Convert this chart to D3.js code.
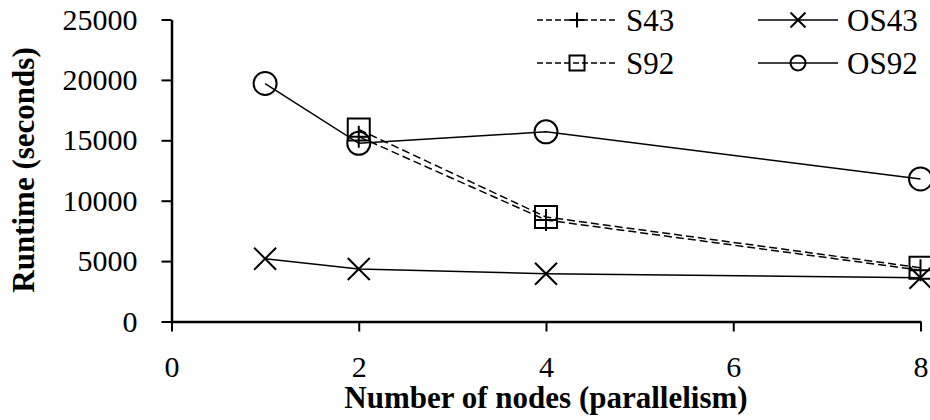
<!DOCTYPE html>
<html>
<head>
<meta charset="utf-8">
<script src="https://cdn.jsdelivr.net/npm/d3@7"></script>
<style>
  body { margin: 0; background: #fff; }
</style>
</head>
<body>
<div id="chart-area"></div>
<script>

// data
const nodesS = [2, 4, 8];
const nodesOS = [1, 2, 4, 8];
const s43 = [15300, 8400, 4250];
const s92 = [15900, 8650, 4450];
const os43 = [5200, 4350, 3950, 3620];
const os92 = [19700, 14750, 15700, 11800];

const xTicks = [0, 2, 4, 6, 8];
const yTicks = [0, 5000, 10000, 15000, 20000, 25000];

const serif = "Liberation Serif";

// canvas
const svgWidth = 930,
      svgHeight = 420;

var svg = d3.select("#chart-area")
    .append("svg")
    .attr("width", svgWidth)
    .attr("height", svgHeight);

// scales
var xScale = d3.scaleLinear()
    .domain([0, 8])
    .range([171.5, 920.5]);
var yScale = d3.scaleLinear()
    .domain([0, 25000])
    .range([321.5, 19.5]);

// axes
var xAxisCall = d3.axisBottom(xScale)
    .tickValues(xTicks)
    .tickSizeInner(10)
    .tickSizeOuter(0)
    .tickPadding(24)
    .tickFormat(d3.format("d"));
var yAxisCall = d3.axisLeft(yScale)
    .tickValues(yTicks)
    .tickSizeInner(10)
    .tickSizeOuter(0)
    .tickPadding(24)
    .tickFormat(d3.format("d"));

var xAxis = svg.append("g")
    .attr("transform", "translate(0," + yScale(0) + ")")
    .call(xAxisCall);
var yAxis = svg.append("g")
    .attr("transform", "translate(" + xScale(0) + ",0)")
    .call(yAxisCall);

[xAxis, yAxis].forEach(function(ax){
    ax.select(".domain").attr("stroke", "#000").attr("stroke-width", 2.5);
    ax.selectAll(".tick line").attr("stroke", "#000").attr("stroke-width", 2);
    ax.selectAll(".tick text")
        .attr("fill", "#000")
        .style("font-family", serif)
        .style("font-size", "30px");
});

// axis titles
svg.append("text")
    .attr("x", 546)
    .attr("y", 408)
    .attr("text-anchor", "middle")
    .style("font-family", serif)
    .style("font-size", "31px")
    .style("font-weight", "bold")
    .text("Number of nodes (parallelism)");

svg.append("text")
    .attr("transform", "translate(34," + 170 + ") rotate(-90)")
    .attr("text-anchor", "middle")
    .style("font-family", serif)
    .style("font-size", "31px")
    .style("font-weight", "bold")
    .text("Runtime (seconds)");

// marker shapes, centred on 0,0
function markerPath(kind, s){
    if (kind == "plus") return "M" + (-s) + ",0H" + s + "M0," + (-s) + "V" + s;
    if (kind == "cross") return "M" + (-s) + "," + (-s) + "L" + s + "," + s + "M" + (-s) + "," + s + "L" + s + "," + (-s);
    if (kind == "square") return "M" + (-s) + "," + (-s) + "H" + s + "V" + s + "H" + (-s) + "Z";
    if (kind == "circle") return d3.arc()({innerRadius: 0, outerRadius: s, startAngle: 0, endAngle: 2 * Math.PI});
}

var series = [
    {name: "S43", xs: nodesS, ys: s43, dash: "8,4", marker: "plus", size: 11},
    {name: "S92", xs: nodesS, ys: s92, dash: "8,4", marker: "square", size: 11},
    {name: "OS43", xs: nodesOS, ys: os43, dash: null, marker: "cross", size: 11},
    {name: "OS92", xs: nodesOS, ys: os92, dash: null, marker: "circle", size: 11.5}
];

var line = d3.line()
    .x(function(d){ return xScale(d[0]); })
    .y(function(d){ return yScale(d[1]); });

series.forEach(function(s){
    var pts = s.xs.map(function(x, i){ return [x, s.ys[i]]; });

    svg.append("path")
        .datum(pts)
        .attr("d", line)
        .attr("fill", "none")
        .attr("stroke", "#000")
        .attr("stroke-width", 1.5)
        .attr("stroke-dasharray", s.dash);

    svg.selectAll(".m-" + s.name)
        .data(pts)
        .enter()
        .append("path")
        .attr("class", "m-" + s.name)
        .attr("transform", function(d){ return "translate(" + xScale(d[0]) + "," + yScale(d[1]) + ")"; })
        .attr("d", markerPath(s.marker, s.size))
        .attr("fill", "none")
        .attr("stroke", "#000")
        .attr("stroke-width", 2);
});

// legend
var legendPos = [
    {x: 537, y: 20},
    {x: 537, y: 63},
    {x: 758, y: 20},
    {x: 758, y: 63}
];

series.forEach(function(s, i){
    var row = svg.append("g")
        .attr("transform", "translate(" + legendPos[i].x + "," + legendPos[i].y + ")");

    row.append("line")
        .attr("x1", 0)
        .attr("x2", 80)
        .attr("stroke", "#000")
        .attr("stroke-width", 1.5)
        .attr("stroke-dasharray", s.dash ? "6,3" : null);

    row.append("path")
        .attr("transform", "translate(40,0)")
        .attr("d", markerPath(s.marker, 7.5))
        .attr("fill", "none")
        .attr("stroke", "#000")
        .attr("stroke-width", 2);

    row.append("text")
        .attr("x", 89)
        .attr("y", 11)
        .style("font-family", serif)
        .style("font-size", "31px")
        .text(s.name);
});

</script>
</body>
</html>
